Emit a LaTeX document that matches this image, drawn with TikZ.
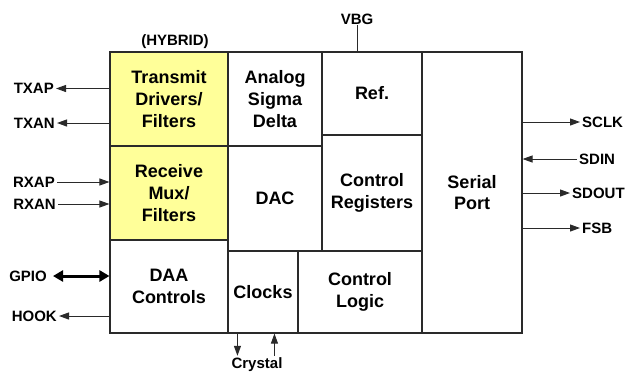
\documentclass[tikz,border=0pt]{standalone}
\usepackage{fontspec}
\setmainfont{Liberation Sans}
\usetikzlibrary{arrows.meta}
\definecolor{hyb}{HTML}{FFFF99}
\definecolor{edge}{HTML}{2A2A2A}
\tikzset{
  blk/.style={draw=edge, line width=1.1pt, align=center, inner sep=0pt,
    font=\fontsize{18pt}{21.7pt}\selectfont\bfseries},
  yel/.style={blk, fill=hyb},
  lbl/.style={font=\fontsize{15pt}{18pt}\selectfont\bfseries, inner sep=2pt},
  sig/.style={draw=edge, line width=1pt, -{Triangle[length=10pt,width=7pt]}},
  bus/.style={draw=black, line width=3pt, {Triangle[length=10pt,width=11pt]}-{Triangle[length=10pt,width=11pt]}}
}
\begin{document}
\begin{tikzpicture}[x=1pt,y=-1pt]
\useasboundingbox (0,0) rectangle (626,373);
% blocks
\node[yel, minimum width=118, minimum height=94] (tx) at (169,99) {Transmit\\Drivers/\\Filters};
\node[yel, minimum width=118, minimum height=94] (rx) at (169,193) {Receive\\Mux/\\Filters};
\node[blk, minimum width=118, minimum height=93] (daa) at (169,286.5) {DAA\\Controls};
\node[blk, minimum width=94, minimum height=94] (asd) at (275,99) {Analog\\Sigma\\Delta};
\node[blk, minimum width=94, minimum height=105] (dac) at (275,198.5) {DAC};
\node[blk, minimum width=70, minimum height=82] (clk) at (263,292) {Clocks};
\node[blk, minimum width=124, minimum height=82] (cl) at (360,292) {Control\\Logic};
\node[blk, minimum width=100, minimum height=83] (ref) at (372,93.5) {Ref.};
\node[blk, minimum width=100, minimum height=116] (creg) at (372,193) {Control\\Registers};
\node[blk, minimum width=100, minimum height=281] (sp) at (472,192.5) {Serial\\Port};
% top labels
\node[lbl] (hybrid) at (175,41.5) {(HYBRID)};
\node[lbl] (vbg) at (357,19) {VBG};
\draw[draw=edge, line width=1pt] (vbg.south |- ref.north) -- ([yshift=2pt]vbg.south);
% left labels
\node[lbl, anchor=east] (txap) at (56,88.5) {TXAP};
\node[lbl, anchor=east] (txan) at (57,123) {TXAN};
\node[lbl, anchor=east] (rxap) at (57,182) {RXAP};
\node[lbl, anchor=east] (rxan) at (58,204) {RXAN};
\node[lbl, anchor=east] (gpio) at (49,276) {GPIO};
\node[lbl, anchor=east] (hook) at (59,316) {HOOK};
\draw[sig] (tx.west |- txap.east) -- (txap.east);
\draw[sig] (tx.west |- txan.east) -- (txan.east);
\draw[sig] (rxap.east) -- (rx.west |- rxap.east);
\draw[sig] (rxan.east) -- (rx.west |- rxan.east);
\draw[bus] ([xshift=4pt]gpio.east) -- (daa.west |- gpio.east);
\draw[sig] (daa.west |- hook.east) -- (hook.east);
% right labels
\node[lbl, anchor=west] (sclk) at (580,122) {SCLK};
\node[lbl, anchor=west] (sdin) at (577,159) {SDIN};
\node[lbl, anchor=west] (sdout) at (570,193) {SDOUT};
\node[lbl, anchor=west] (fsb) at (580,228) {FSB};
\draw[sig] (sp.east |- sclk.west) -- (sclk.west);
\draw[sig] (sdin.west) -- (sp.east |- sdin.west);
\draw[sig] (sp.east |- sdout.west) -- (sdout.west);
\draw[sig] (sp.east |- fsb.west) -- (fsb.west);
% crystal
\node[lbl] (crystal) at (257,365) {Crystal};
\coordinate (cdn) at ([xshift=10pt]clk.south west);
\coordinate (cup) at ([xshift=47pt]clk.south west);
\draw[sig] (cdn) -- (cdn |- crystal.north);
\draw[sig] (cup |- crystal.north) -- (cup);
\end{tikzpicture}
\end{document}
